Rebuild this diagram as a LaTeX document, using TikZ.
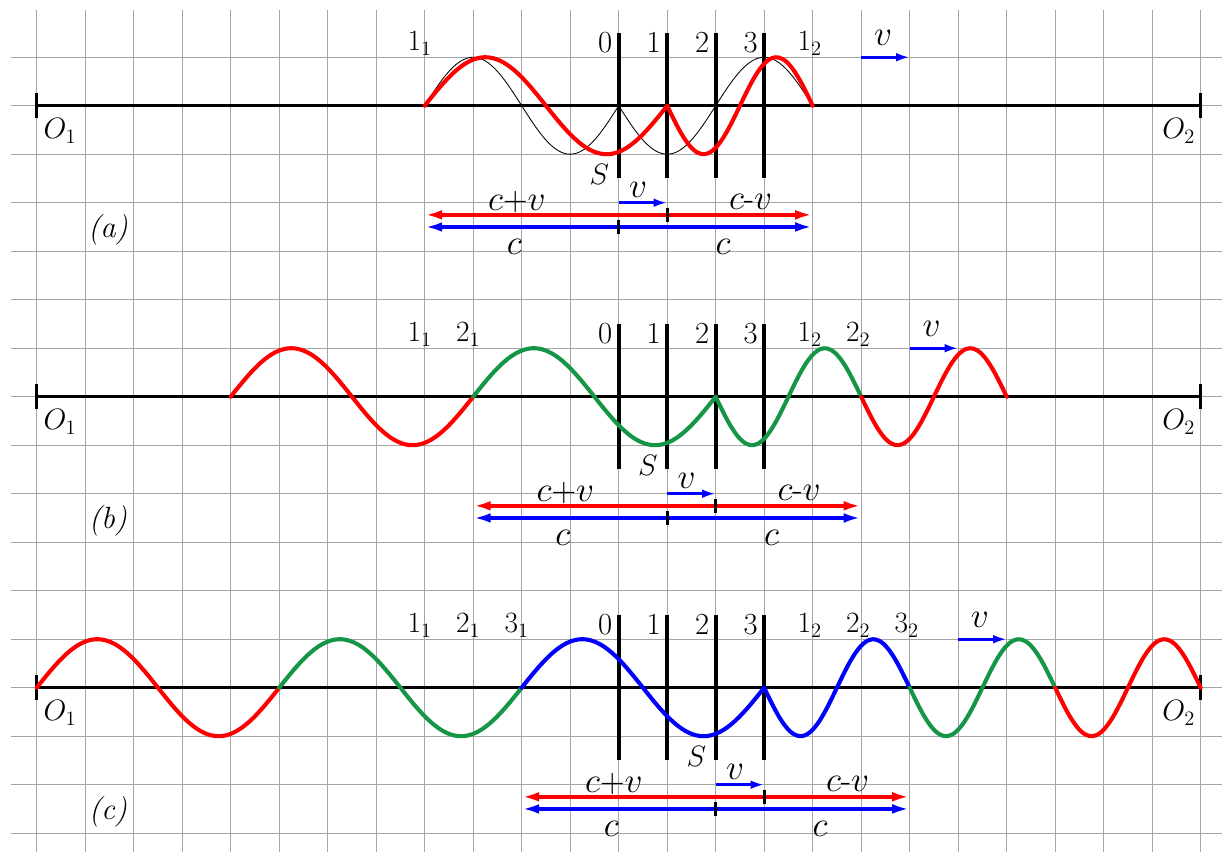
\documentclass[tikz,border=0pt]{standalone}
\usepackage{amsmath}
\usepackage{tikz}
\usetikzlibrary{arrows.meta}
\definecolor{wavegreen}{RGB}{20,150,70}
\definecolor{gridgray}{RGB}{165,165,165}

\begin{document}
\begin{tikzpicture}[x=1cm,y=1cm,every node/.style={font=\fontsize{18}{21}\selectfont},
  gridline/.style={gridgray,line width=0.7pt},
  axisline/.style={line width=1.7pt},
  srcline/.style={line width=2.2pt},
  wave/.style={line width=2.4pt,line join=round,line cap=round},
  thinwave/.style={line width=0.5pt},
  speed/.style={font=\fontsize{20}{23}\selectfont},
  vel/.style={blue,line width=1.8pt,-{Latex[length=2.8mm,width=1.8mm]}},
  span/.style={line width=2pt,{Latex[length=3.6mm,width=2mm]}-{Latex[length=3.6mm,width=2mm]}},
  tick/.style={line width=1.8pt}]
\useasboundingbox (-0.757,2.18) rectangle (24.44,-15.39);
\fill[white] (-0.757,2.18) rectangle (24.44,-15.39);
% grid
\foreach \x in {0,...,24}{\draw[gridline] (\x,1.97)--(\x,-15.39);}
\foreach \y in {1,0,...,-15}{\draw[gridline] (-0.53,\y)--(24.44,\y);}
% what every panel has
\foreach \p/\yy/\k in {a/0/0,b/-6/1,c/-12/2}{
\begin{scope}[yshift=\yy cm]
\draw[axisline] (0,0)--(24,0);
\draw[axisline] (0,0.26)--(0,-0.26);
\draw[axisline] (24,0.26)--(24,-0.26);
\node (O1\p) at (0.48,-0.52) {$O_1$};
\node (O2\p) at (23.55,-0.52) {$O_2$};
\node (lab\p) at (1.47,-2.56) {\textit{(\p)}};
\foreach \i in {0,...,3}{
  \draw[srcline] (12+\i,1.5)--(12+\i,-1.5);
  \node (num\p\i) at (11.72+\i,1.31) {\i};}
\pgfmathtruncatemacro\n{\k+1}
\foreach \j in {1,...,\n}{
  \node (l\p\j) at (6.9+\j,1.28) {$\j_1$};
  \node (r\p\j) at (14.94+\j,1.28) {$\j_2$};}
\node (S\p) at (11.6+\k,-1.41) {$S$};
% velocity
\coordinate (va\p) at (17+\k,1);
\coordinate (vb\p) at (18+\k,1);
\draw[vel] (va\p)--(vb\p);
\node[speed] (vt\p) at (17.45+\k,1.4) {$v$};
\coordinate (sa\p) at (12+\k,-2);
\coordinate (sb\p) at (13+\k,-2);
\draw[vel] (sa\p)--(sb\p);
\node[speed] (vs\p) at (12.4+\k,-1.74) {$v$};
% wavelengths
\coordinate (rl\p) at (8+\k,-2.25);
\coordinate (rr\p) at (16+\k,-2.25);
\coordinate (bl\p) at (8+\k,-2.5);
\coordinate (br\p) at (16+\k,-2.5);
\draw[span,red] (rl\p)--(rr\p);
\draw[span,blue] (bl\p)--(br\p);
\draw[tick] (13+\k,-2.1)--(13+\k,-2.4);
\draw[tick] (12+\k,-2.35)--(12+\k,-2.65);
\node[speed] (cpv\p) at (9.9+\k,-1.99) {$c$+$v$};
\node[speed] (cmv\p) at (14.72+\k,-1.99) {$c$-$v$};
\node[speed] (cl\p) at (9.85+\k,-2.91) {$c$};
\node[speed] (cr\p) at (14.15+\k,-2.91) {$c$};
\end{scope}}
% (a)
\draw[thinwave] plot[domain=8:12,samples=50,smooth] (\x,{sin(90*(\x-8))});
\draw[thinwave] plot[domain=12:16,samples=50,smooth] (\x,{-sin(90*(\x-12))});
\draw[wave,red] plot[domain=8:13,samples=50,smooth] (\x,{sin(72*(\x-8))});
\draw[wave,red] plot[domain=13:16,samples=40,smooth] (\x,{-sin(120*(\x-13))});
% (b)
\begin{scope}[yshift=-6cm]
\foreach \s/\e/\col in {4/9/red,9/14/wavegreen}
  \draw[wave,\col] plot[domain=\s:\e,samples=50,smooth] (\x,{sin(72*(\x-\s))});
\foreach \s/\e/\col in {14/17/wavegreen,17/20/red}
  \draw[wave,\col] plot[domain=\s:\e,samples=40,smooth] (\x,{-sin(120*(\x-\s))});
\end{scope}
% (c)
\begin{scope}[yshift=-12cm]
\foreach \s/\e/\col in {0/5/red,5/10/wavegreen,10/15/blue}
  \draw[wave,\col] plot[domain=\s:\e,samples=50,smooth] (\x,{sin(72*(\x-\s))});
\foreach \s/\e/\col in {15/18/blue,18/21/wavegreen,21/24/red}
  \draw[wave,\col] plot[domain=\s:\e,samples=40,smooth] (\x,{-sin(120*(\x-\s))});
\end{scope}
\end{tikzpicture}
\end{document}
